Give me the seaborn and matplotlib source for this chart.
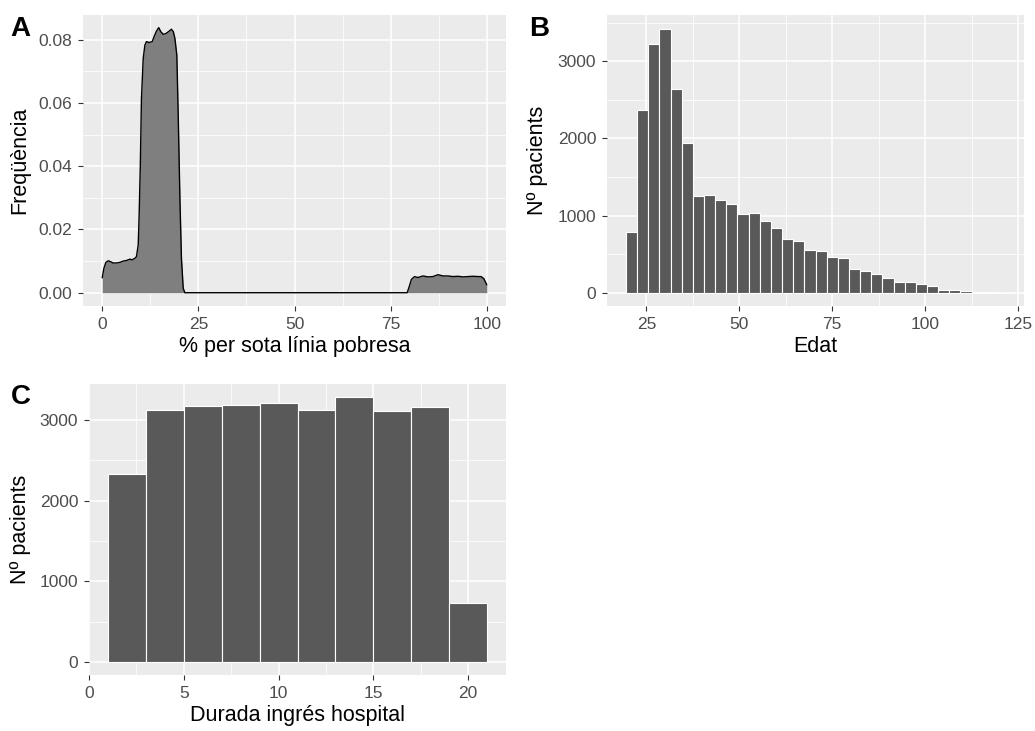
import seaborn as sns
import matplotlib.pyplot as plt
import numpy as np
import pandas as pd
from matplotlib.ticker import MultipleLocator

# A: density of % below poverty line
pobresa_x = [0, 0.43, 0.95, 1.56, 2.17, 2.86, 3.73, 4.6, 5.46, 6.33, 7.2, 7.8, 8.5, 8.9,
             9.36, 9.6, 9.9, 10.2, 10.66, 11.1, 11.5, 12.2, 13.0, 13.5, 14.1, 14.7, 15.25,
             15.86, 16.5, 17.2, 18.0, 18.5, 18.9, 19.4, 19.76, 20.2, 20.6, 21.06, 21.5,
             79.3, 79.8, 80.4, 81.2, 82.1, 83.4, 84.7, 86.0, 87.3, 88.6, 89.9, 91.2, 92.5,
             93.8, 95.1, 96.4, 97.7, 98.5, 99.2, 99.7, 100]
pobresa_dens = [0.0047, 0.0077, 0.0096, 0.0101, 0.0098, 0.0094, 0.0094, 0.0096, 0.0100,
                0.0102, 0.0106, 0.0104, 0.0109, 0.0114, 0.0151, 0.0246, 0.0400, 0.0614,
                0.0741, 0.0783, 0.0794, 0.0791, 0.0794, 0.0810, 0.0827, 0.0838, 0.0825,
                0.0817, 0.0819, 0.0825, 0.0833, 0.0825, 0.0804, 0.0751, 0.0562, 0.0298,
                0.0109, 0.0014, 0.0,
                0.0, 0.0018, 0.0042, 0.0051, 0.0048, 0.0053, 0.0050, 0.0051, 0.0057, 0.0053,
                0.0053, 0.0051, 0.0052, 0.0050, 0.0051, 0.0052, 0.0051, 0.0051, 0.0045,
                0.0033, 0.0025]

# B: age histogram, bins of 3 starting at 19.5
edat_start, edat_width = 19.5, 3
edat_counts = [792, 2368, 3221, 3424, 2641, 1939, 1255, 1268, 1208, 1147, 1017, 1030, 931,
               844, 701, 671, 550, 537, 459, 450, 305, 285, 249, 188, 145, 134, 117, 84,
               37, 37, 27, 15, 8, 0]

# C: length of hospital stay, bins of 2 from 1 to 21
durada_start, durada_width = 1, 2
durada_counts = [2335, 3133, 3178, 3191, 3212, 3133, 3286, 3120, 3166, 735]

sns.set_theme(style="darkgrid")
plt.rcParams['font.family'] = ['Liberation Sans', 'DejaVu Sans']

W, H = 1035, 731
fig = plt.figure(figsize=(W / 100, H / 100), dpi=100)
fig.patch.set_facecolor('white')


def make_ax(l, t, r, b):
    return fig.add_axes([l / W, 1 - b / H, (r - l) / W, (b - t) / H])


def ggstyle(ax, xmaj, ymaj, xlabel, ylabel, ylab_x):
    ax.set_facecolor('#EBEBEB')
    for s in ax.spines.values():
        s.set_visible(False)
    ax.xaxis.set_major_locator(MultipleLocator(xmaj))
    ax.xaxis.set_minor_locator(MultipleLocator(xmaj / 2))
    ax.yaxis.set_major_locator(MultipleLocator(ymaj))
    ax.yaxis.set_minor_locator(MultipleLocator(ymaj / 2))
    ax.grid(which='major', color='white', linewidth=1.1)
    ax.grid(which='minor', color='white', linewidth=0.55)
    ax.set_axisbelow(True)
    ax.tick_params(which='major', length=3.8, width=0.8, color='#333333',
                   labelsize=12.5, labelcolor='#4D4D4D', pad=4,
                   bottom=True, left=True)
    ax.tick_params(which='minor', length=0, bottom=False, left=False)
    ax.set_xlabel(xlabel, fontsize=15.5, color='black', labelpad=3)
    ax.set_ylabel(ylabel, fontsize=15.5, color='black')
    ax.yaxis.set_label_coords(ylab_x, 0.5)


def hist(ax, start, width, counts):
    n = len(counts)
    df = pd.DataFrame({'x': start + width * (np.arange(n) + 0.5), 'n': counts})
    sns.histplot(data=df, x='x', weights='n', binwidth=width,
                 binrange=(start, start + width * n), color='#595959',
                 edgecolor='white', linewidth=0.8, alpha=1, ax=ax)


# Panel A
axA = make_ax(83, 15, 506, 306)
axA.fill_between(pobresa_x, pobresa_dens, color='#7F7F7F', linewidth=0)
sns.lineplot(x=pobresa_x, y=pobresa_dens, color='black', linewidth=1.0, ax=axA)
axA.set_xlim(-5, 105)
axA.set_ylim(-0.0042, 0.0878)
ggstyle(axA, 25, 0.02, '% per sota línia pobresa', 'Freqüència', -0.125)
axA.yaxis.set_major_formatter(plt.FuncFormatter(lambda v, p: f'{v:.2f}'))

# Panel B
axB = make_ax(607, 15, 1024, 306)
hist(axB, edat_start, edat_width, edat_counts)
axB.set_xlim(14.4, 126.6)
axB.set_ylim(-172, 3601)
ggstyle(axB, 25, 1000, 'Edat', 'Nº pacients', -0.141)

# Panel C
axC = make_ax(89, 384, 506, 675)
hist(axC, durada_start, durada_width, durada_counts)
axC.set_xlim(0, 22)
axC.set_ylim(-164, 3450)
ggstyle(axC, 5, 1000, 'Durada ingrés hospital', 'Nº pacients', -0.139)

# panel letters
for lab, x, y in [('A', 10, 36), ('B', 529, 36), ('C', 11, 404)]:
    fig.text(x / W, 1 - y / H, lab, fontsize=20, fontweight='bold', color='black',
             ha='left', va='baseline')

fig.savefig('out.png', dpi=100)
